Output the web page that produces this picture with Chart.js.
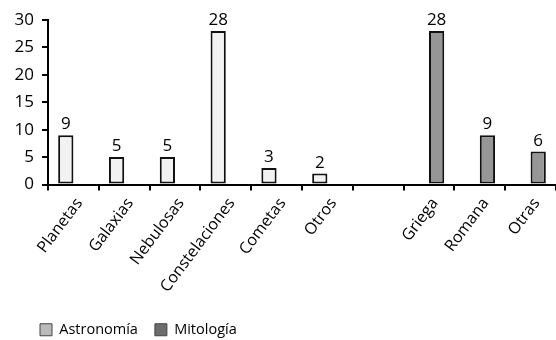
<!DOCTYPE html>
<html>
<head>
<meta charset="utf-8">
<script src="https://cdn.jsdelivr.net/npm/chart.js@4.4.0/dist/chart.umd.min.js"></script>
<style>
  html, body { margin: 0; padding: 0; background: #fff; }
  canvas { display: block; }
</style>
</head>
<body>
<canvas id="myChart" width="556" height="340"></canvas>
<script>
// ___________ Data ___________ //
const categories = ["Planetas", "Galaxias", "Nebulosas", "Constelaciones", "Cometas", "Otros", "", "Griega", "Romana", "Otras"];
const astronomia = [9, 5, 5, 28, 3, 2, null, null, null, null];
const mitologia = [null, null, null, null, null, null, null, 28, 9, 6];
const yTicks = [0, 5, 10, 15, 20, 25, 30];
// ___________ Data ___________ //

const FONT = "'Open Sans', 'Noto Sans', sans-serif";

// ___________ value labels above bars ___________ //
const barValues = {
  id: "barValues",
  afterDatasetsDraw(chart) {
    const c = chart.ctx;
    c.save();
    c.font = "17px " + FONT;
    c.fillStyle = "#000";
    c.textAlign = "center";
    c.textBaseline = "alphabetic";
    chart.data.datasets.forEach((ds, i) => {
      chart.getDatasetMeta(i).data.forEach((bar, j) => {
        if (ds.data[j] == null) return;
        c.fillText(String(ds.data[j]), bar.x, bar.y - 6);
      });
    });
    c.restore();
  },
};

// ___________ legend sits lower left, under the y labels ___________ //
const legendNudge = {
  id: "legendNudge",
  beforeDraw(chart) {
    const lg = chart.legend;
    if (!lg) return;
    const dy = 305.5 - lg.top;
    lg.top += dy;
    lg.bottom += dy;
    lg.left = 23;
  },
};

const legendFills = ["#bababa", "#6c6c6c"];

const ctx = document.getElementById("myChart").getContext("2d");
const myChart = new Chart(ctx, {
  type: "bar",
  data: {
    labels: categories,
    datasets: [
      {
        label: "Astronomía",
        data: astronomia,
        backgroundColor: "#f2f2f2",
        borderColor: "#111",
        borderWidth: 2,
        borderSkipped: false,
      },
      {
        label: "Mitología",
        data: mitologia,
        backgroundColor: "#969696",
        borderColor: "#111",
        borderWidth: 2,
        borderSkipped: false,
      },
    ],
  },
  options: {
    responsive: false,
    animation: false,
    devicePixelRatio: 1,
    categoryPercentage: 0.6,
    barPercentage: 1,
    layout: { padding: { top: 20, left: 0, right: 0, bottom: 0 } },
    plugins: {
      tooltip: { enabled: false },
      legend: {
        position: "bottom",
        align: "start",
        labels: {
          boxWidth: 12,
          boxHeight: 12,
          padding: 17,
          color: "#000",
          font: { family: FONT, size: 14.5 },
          generateLabels: function (chart) {
            const items = Chart.defaults.plugins.legend.labels.generateLabels(chart);
            items.forEach((it, i) => {
              it.fillStyle = legendFills[i];
              it.strokeStyle = "#444";
              it.lineWidth = 1;
            });
            return items;
          },
        },
      },
    },
    scales: {
      x: {
        afterFit: function (scale) {
          scale.height = 114;
        },
        grid: {
          display: true,
          drawOnChartArea: false,
          drawTicks: true,
          offset: true,
          tickLength: 6,
          color: "#000",
          lineWidth: 2,
        },
        border: { color: "#000", width: 2 },
        ticks: {
          autoSkip: false,
          maxRotation: 53,
          minRotation: 53,
          padding: 4,
          labelOffset: 6,
          color: "#000",
          font: { family: FONT, size: 16 },
        },
      },
      y: {
        min: 0,
        max: 30,
        afterFit: function (scale) {
          scale.width = 48;
        },
        afterBuildTicks: function (scale) {
          scale.ticks = yTicks.map((v) => ({ value: v }));
        },
        grid: {
          display: true,
          drawOnChartArea: false,
          tickLength: 6,
          color: "#000",
          lineWidth: 2,
        },
        border: { color: "#000", width: 2 },
        ticks: {
          padding: 8,
          color: "#000",
          font: { family: FONT, size: 17 },
        },
      },
    },
  },
  plugins: [barValues, legendNudge],
});
</script>
</body>
</html>
